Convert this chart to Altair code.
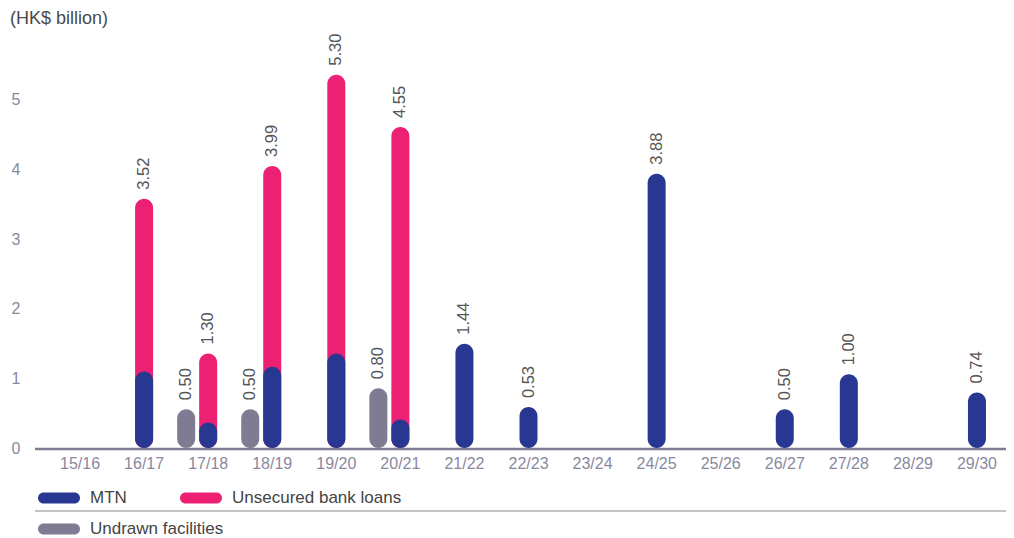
import altair as alt
import pandas as pd

categories = ["15/16", "16/17", "17/18", "18/19", "19/20", "20/21", "21/22", "22/23",
              "23/24", "24/25", "25/26", "26/27", "27/28", "28/29", "29/30"]
mtn = [0, 1.04, 0.31, 1.11, 1.30, 0.35, 1.44, 0.53, 0, 3.88, 0, 0.50, 1.00, 0, 0.74]
totals = [0, 3.52, 1.30, 3.99, 5.30, 4.55, 1.44, 0.53, 0, 3.88, 0, 0.50, 1.00, 0, 0.74]
undrawn = [0, 0, 0.50, 0.50, 0, 0.80, 0, 0, 0, 0, 0, 0, 0, 0, 0]

SERIES = ["MTN", "Unsecured bank loans"]
COLORS = ["#283891", "#ED2173"]
UND = ["Undrawn facilities"]
UND_COLOR = ["#7F7B92"]
FONT = "Liberation Sans"

rows, labels = [], []
for c, m, t, u in zip(categories, mtn, totals, undrawn):
    if t > m:
        rows.append(dict(cat=c, series="Unsecured bank loans", top=t))
    if m > 0:
        rows.append(dict(cat=c, series="MTN", top=m))
    if u > 0:
        rows.append(dict(cat=c, series="Undrawn facilities", top=u))
    if t > 0:
        labels.append(dict(cat=c, top=t, label=f"{t:.2f}", kind="main"))
    if u > 0:
        labels.append(dict(cat=c, top=u, label=f"{u:.2f}", kind="undrawn"))
bars = pd.DataFrame(rows)
labs = pd.DataFrame(labels)

W, H = 968, 418
R = 9
OFF = -4
PILL = "M-0.738,-0.262L0.738,-0.262A0.262,0.262 0 0 1 0.738,0.262L-0.738,0.262A0.262,0.262 0 0 1 -0.738,-0.262Z"

x = alt.X("cat:N", scale=alt.Scale(domain=categories, range=[13, 974], paddingInner=0, paddingOuter=0),
          axis=alt.Axis(title=None, labelAngle=0, domain=False, ticks=False, labelColor="#8a88a0",
                        labelFontSize=16, labelPadding=7, labelFont=FONT))
y = alt.Y("top:Q", scale=alt.Scale(domain=[0, 6], nice=False), stack=None,
          axis=alt.Axis(title=None, values=[0, 1, 2, 3, 4, 5], grid=False, ticks=False, domain=False,
                        labelColor="#8a88a0", labelFontSize=16, labelPadding=15, labelFont=FONT))

leg_kw = dict(title=None, orient="none", direction="horizontal", symbolType=PILL,
              symbolSize=1764, symbolStrokeWidth=0, symbolOpacity=1,
              labelFontSize=17, labelColor="#444444", labelFont=FONT, labelLimit=400,
              labelOffset=10)
color = alt.Color("series:N", scale=alt.Scale(domain=SERIES, range=COLORS),
                  legend=alt.Legend(legendX=3, legendY=447, columnPadding=53, **leg_kw))
fill = alt.Fill("series:N", scale=alt.Scale(domain=UND, range=UND_COLOR),
                legend=alt.Legend(legendX=3, legendY=478, **leg_kw))

bar_kw = dict(width=18, cornerRadiusTopLeft=R, cornerRadiusTopRight=R,
              cornerRadiusBottomLeft=R, cornerRadiusBottomRight=R, yOffset=OFF, y2Offset=OFF)

base_bar = alt.Chart(bars)
pink = base_bar.transform_filter(alt.datum.series == "Unsecured bank loans").mark_bar(
    **bar_kw).encode(x=x, y=y, color=color)
blue = base_bar.transform_filter(alt.datum.series == "MTN").mark_bar(
    **bar_kw).encode(x=x, y=y, color=color)
grey = base_bar.transform_filter(alt.datum.series == "Undrawn facilities").mark_bar(
    xOffset=-22, **bar_kw).encode(x=x, y=y, fill=fill)

base_lab = alt.Chart(labs)
lab_kw = dict(angle=270, align="left", baseline="middle", dx=9, yOffset=OFF, fontSize=16.5,
              color="#555555", font=FONT)
main_lab = base_lab.transform_filter(alt.datum.kind == "main").mark_text(**lab_kw).encode(
    x=x, y=y, text="label:N")
und_lab = base_lab.transform_filter(alt.datum.kind == "undrawn").mark_text(
    xOffset=-22, **lab_kw).encode(x=x, y=y, text="label:N")

baseline = alt.Chart(pd.DataFrame({"v": [0]})).mark_rule(color="#7F7B92", strokeWidth=2.5).encode(
    x=alt.value(0), x2=alt.value(971), y=alt.value(H + 1))
sep = alt.Chart(pd.DataFrame({"v": [0]})).mark_rule(color="#8a8a8a", strokeWidth=1.2).encode(
    x=alt.value(0), x2=alt.value(971), y=alt.value(481))

chart = alt.layer(baseline, pink, blue, grey, main_lab, und_lab, sep).properties(
    width=W, height=H,
    title=alt.TitleParams("(HK$ billion)", anchor="start", frame="group", dx=-25, fontSize=18,
                          fontWeight="normal", color="#4a4a4a", font=FONT, offset=2),
    autosize=alt.AutoSizeParams(type="none"),
    padding={"left": 27, "top": 22, "right": 3, "bottom": 90},
).configure_view(stroke=None)

chart.save("out.html", embed_options={"renderer": "svg", "actions": False})
